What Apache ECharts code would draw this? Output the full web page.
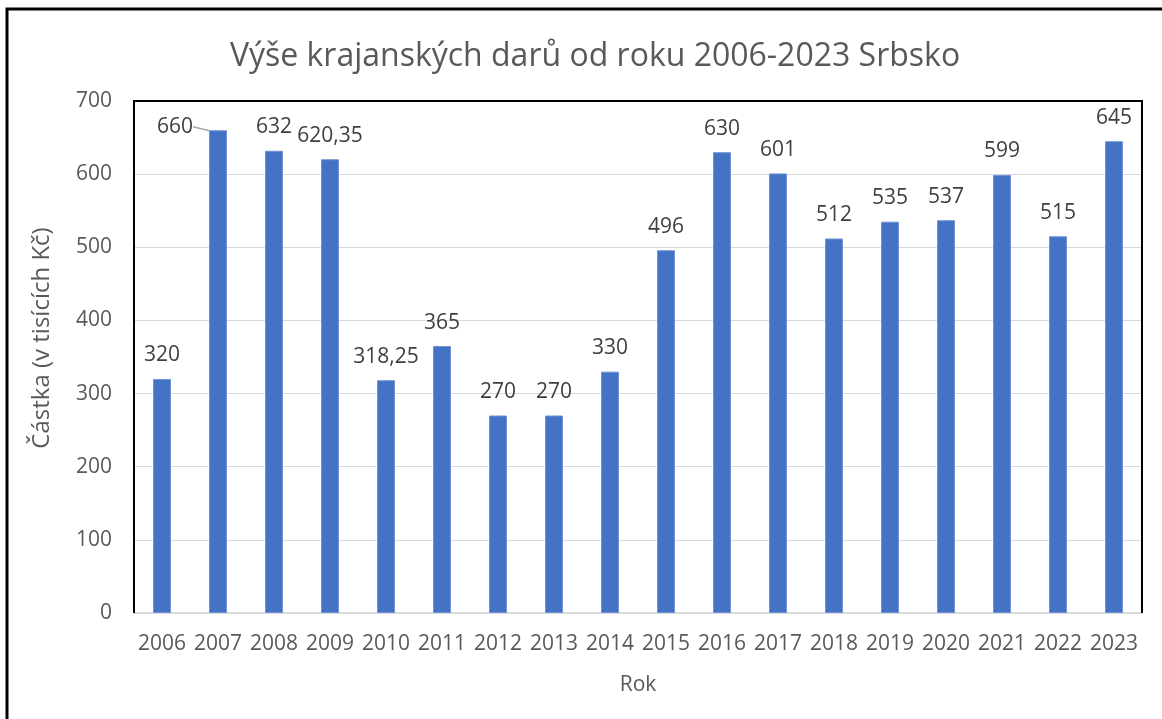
<!DOCTYPE html>
<html>
<head>
<meta charset="UTF-8">
<title>Výše krajanských darů</title>
<script src="https://cdn.jsdelivr.net/npm/echarts@6/dist/echarts.min.js"></script>
<style>
  html, body { margin: 0; padding: 0; background: #fff; }
</style>
</head>
<body>
<div id="main" style="width: 1162px; height: 719px;"></div>
<script>
// data
const years = ['2006', '2007', '2008', '2009', '2010', '2011', '2012', '2013', '2014',
  '2015', '2016', '2017', '2018', '2019', '2020', '2021', '2022', '2023'];
const amounts = [320, 660, 632, 620.35, 318.25, 365, 270, 270, 330,
  496, 630, 601, 512, 535, 537, 599, 515, 645];
const yTicks = [0, 100, 200, 300, 400, 500, 600, 700];

const font = '"Open Sans", "Noto Sans", sans-serif';
const chart = echarts.init(document.getElementById('main'));

const option = {
  animation: false,
  textStyle: { fontFamily: font },
  title: {
    text: 'Výše krajanských darů od roku 2006-2023 Srbsko',
    left: 590,
    textAlign: 'center',
    top: 36,
    textStyle: { fontSize: 32, fontWeight: 'normal', color: '#595959', fontFamily: font }
  },
  graphic: [{
    // outer frame
    type: 'rect',
    shape: { x: 7, y: 9, width: 1200, height: 760 },
    style: { fill: 'none', stroke: '#000', lineWidth: 3 },
    silent: true
  }, {
    // plot area frame (top, left, right)
    type: 'polyline',
    shape: { points: [[134, 613], [134, 101], [1142, 101], [1142, 613]] },
    style: { fill: 'none', stroke: '#000', lineWidth: 2 },
    silent: true,
    z: 10
  }, {
    // y axis title
    type: 'text',
    x: 42,
    y: 338,
    rotation: Math.PI / 2,
    style: {
      text: 'Částka (v tisících Kč)',
      align: 'center',
      verticalAlign: 'middle',
      fontSize: 24,
      fontFamily: font,
      fill: '#595959'
    },
    silent: true
  }],
  grid: { left: 134, top: 101, right: 20, bottom: 106 },
  xAxis: {
    type: 'category',
    data: years,
    name: 'Rok',
    nameLocation: 'middle',
    nameGap: 62,
    nameTextStyle: { fontSize: 21, color: '#595959' },
    axisLine: { lineStyle: { color: '#d9d9d9', width: 2 } },
    axisTick: { show: false },
    axisLabel: { fontSize: 21, color: '#595959', margin: 21, interval: 0 }
  },
  yAxis: {
    type: 'value',
    min: yTicks[0],
    max: yTicks[yTicks.length - 1],
    interval: 100,
    axisLine: { show: false },
    axisTick: { show: false },
    axisLabel: { fontSize: 21, color: '#595959', margin: 22 },
    splitLine: { lineStyle: { color: '#d9d9d9', width: 1 } }
  },
  series: [{
    type: 'bar',
    data: amounts.map((v, i) => i === 1
      ? { value: v, labelLine: { show: true, lineStyle: { color: '#a6a6a6', width: 1.5 } } }
      : v),
    barWidth: 18,
    itemStyle: { color: '#4472C4', borderColor: '#6f93d3', borderWidth: 1 },
    label: {
      show: true,
      position: 'top',
      distance: 13,
      fontSize: 21,
      color: '#404040',
      formatter: p => String(p.value).replace('.', ',')
    },
    labelLayout: p => p.dataIndex === 1 ? { dx: -43, dy: 20 } : {}
  }]
};

chart.setOption(option);
</script>
</body>
</html>
